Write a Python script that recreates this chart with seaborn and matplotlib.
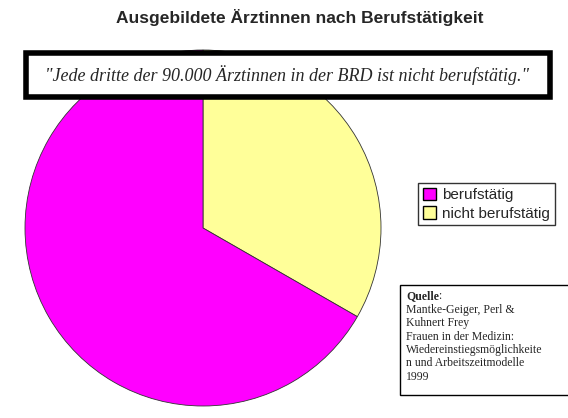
import matplotlib
matplotlib.use("Agg")
import matplotlib.pyplot as plt
from matplotlib.patches import Patch, Rectangle
import seaborn as sns

sns.set_style("white")

labels = ["berufstätig", "nicht berufstätig"]
shares = [66.7, 33.3]
colors = ["#FF00FF", "#FFFF99"]

fig = plt.figure(figsize=(5.68, 4.18), dpi=100)
W, H = 568, 418
cx, cy, r = 203, 228, 178
ax = fig.add_axes([(cx - r) / W, 1 - (cy + r) / H, 2 * r / W, 2 * r / H])
# yellow slice first, clockwise from the top
ax.pie(shares[::-1], colors=colors[::-1], startangle=90, counterclock=False,
       wedgeprops=dict(edgecolor="#333333", linewidth=0.6))
ax.set_xlim(-1, 1)
ax.set_ylim(-1, 1)
ax.set_aspect("equal")

fig.text(300 / W, 1 - 17 / H, "Ausgebildete Ärztinnen nach Berufstätigkeit",
         ha="center", va="center", fontsize=12.5, fontweight="bold", family="Liberation Sans")

fig.patches.append(Rectangle((26 / W, 1 - 97 / H), 524 / W, 44 / H, transform=fig.transFigure,
                             facecolor="white", edgecolor="black", linewidth=4, zorder=5))
fig.text(287 / W, 1 - 75 / H,
         "\"Jede dritte der 90.000 Ärztinnen in der BRD ist nicht berufstätig.\"",
         ha="center", va="center", fontsize=13, style="italic", family="Liberation Serif",
         zorder=6)

handles = [Patch(facecolor=c, edgecolor="black") for c in colors]
fig.legend(handles, labels, loc="upper left", bbox_to_anchor=(418 / W, 1 - 183 / H),
           frameon=True, fancybox=False, edgecolor="black",
           prop=dict(family="Liberation Sans", size=11),
           handlelength=0.9, handleheight=0.9, handletextpad=0.4, borderpad=0.3,
           labelspacing=0.25, borderaxespad=0)

fig.patches.append(Rectangle((400 / W, 1 - 395 / H), 170 / W, 110 / H, transform=fig.transFigure,
                             facecolor="white", edgecolor="black", linewidth=1, zorder=5))
fig.text(406 / W, 1 - 290 / H, "Quelle", ha="left", va="top", fontsize=8.5,
         family="Liberation Serif", fontweight="bold", zorder=6)
fig.text(438 / W, 1 - 290 / H, ":", ha="left", va="top", fontsize=8.5,
         family="Liberation Serif", zorder=6)
src = ("Mantke-Geiger, Perl &\nKuhnert Frey\nFrauen in der Medizin:\n"
       "Wiedereinstiegsmöglichkeite\nn und Arbeitszeitmodelle\n1999")
fig.text(406 / W, 1 - 304 / H, src, ha="left", va="top", fontsize=8.5,
         family="Liberation Serif", linespacing=1.15, zorder=6)

fig.savefig("out.png", dpi=100)
